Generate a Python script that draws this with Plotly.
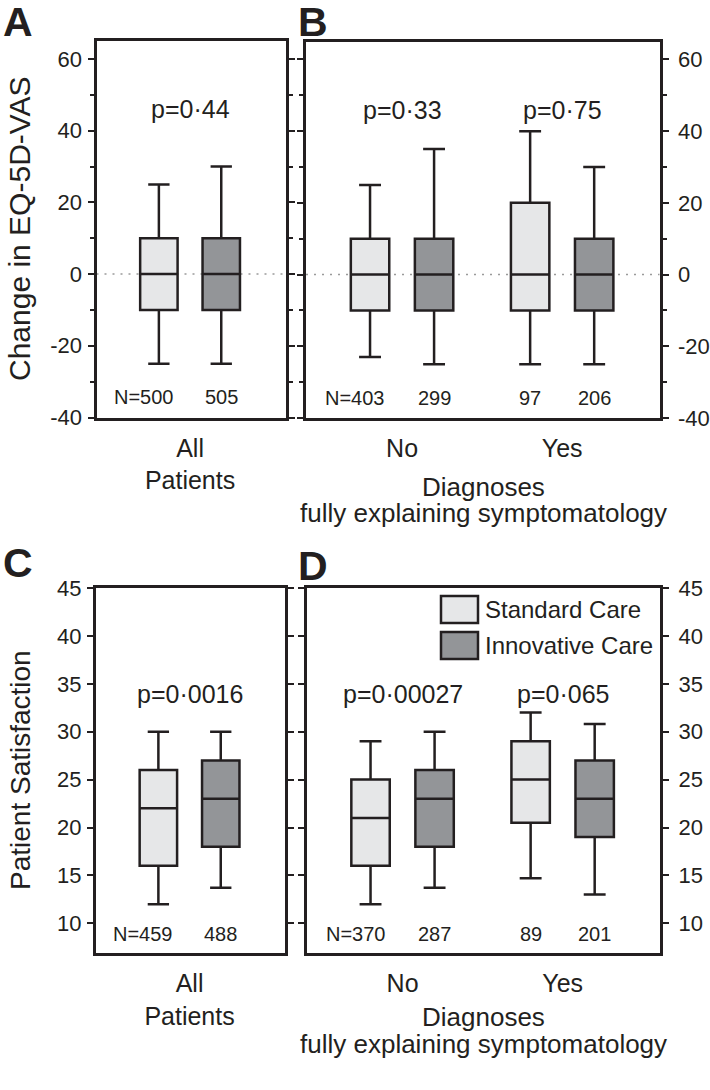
import plotly.graph_objects as go

W, H = 710, 1090
FONT = "Liberation Sans, Arial, sans-serif"
INK = "#231f20"
LIGHT = "#e6e7e8"
DARK = "#939598"

# five-number summaries per box: lower whisker, q1, median, q3, upper whisker
a_std = [[-25, -10, 0, 10, 25]]
a_inn = [[-25, -10, 0, 10, 30]]
b_std = [[-23, -10, 0, 10, 25], [-25, -10, 0, 20, 40]]
b_inn = [[-25, -10, 0, 10, 35], [-25, -10, 0, 10, 30]]
c_std = [[12, 16, 22, 26, 30]]
c_inn = [[13.7, 18, 23, 27, 30]]
d_std = [[12, 16, 21, 25, 29], [14.7, 20.5, 25, 29, 32]]
d_inn = [[13.7, 18, 23, 26, 30], [13, 19, 23, 27, 30.8]]

a_n = [500, 505]
b_n = [403, 299, 97, 206]
c_n = [459, 488]
d_n = [370, 287, 89, 201]

a_p = ["p=0·44"]
b_p = ["p=0·33", "p=0·75"]
c_p = ["p=0·0016"]
d_p = ["p=0·00027", "p=0·065"]

all_groups = ["All<br>Patients"]
dx_groups = ["No", "Yes"]

vas_ticks = [-40, -20, 0, 20, 40, 60]
vas_minor = [-30, -10, 10, 30, 50]
sat_ticks = [10, 15, 20, 25, 30, 35, 40, 45]

legend_names = ["Standard Care", "Innovative Care"]


def px_x(a, b):
    return [a / W, b / W]


def px_y(top, bottom):
    return [1 - bottom / H, 1 - top / H]


def label(text, x, y, size, xref="paper", yref="paper", **kw):
    d = dict(x=x, y=y, xref=xref, yref=yref, text=text, showarrow=False,
             xanchor="center", yanchor="middle",
             font=dict(size=size, color=INK, family=FONT))
    d.update(kw)
    return d


fig = go.Figure()
annotations = []
shapes = []


def add_panel(k, std, inn, groups, n, pvals, p_y, n_y, zero_line):
    xa = "x" if k == 1 else f"x{k}"
    ya = "y" if k == 1 else f"y{k}"
    std_pos = [1 + 2.5 * i for i in range(len(groups))]
    inn_pos = [2 + 2.5 * i for i in range(len(groups))]
    for pos, stats, fill, name in [(std_pos, std, LIGHT, legend_names[0]),
                                   (inn_pos, inn, DARK, legend_names[1])]:
        fig.add_trace(go.Box(
            x=pos,
            lowerfence=[s[0] for s in stats], q1=[s[1] for s in stats],
            median=[s[2] for s in stats], q3=[s[3] for s in stats],
            upperfence=[s[4] for s in stats],
            fillcolor=fill, line=dict(color=INK, width=2.5),
            width=0.6, whiskerwidth=0.57, boxpoints=False, hoverinfo="skip",
            name=name, showlegend=False, xaxis=xa, yaxis=ya,
        ))
    centers = [1.5 + 2.5 * i for i in range(len(groups))]
    for c, p in zip(centers, pvals):
        annotations.append(label(p, c, p_y, 25, xa, ya))
    boxes = sorted(std_pos + inn_pos)
    for j, (pos, num) in enumerate(zip(boxes, n)):
        if j == 0:
            annotations.append(label(f"N={num}", pos + 0.27, n_y, 20, xa, ya, xanchor="right"))
        else:
            annotations.append(label(str(num), pos, n_y, 20, xa, ya))
    if zero_line:
        shapes.append(dict(type="line", xref=f"{xa} domain", x0=0, x1=1, yref=ya, y0=0, y1=0,
                           line=dict(color="#9a9a9a", width=1.5, dash="2px,6px"),
                           layer="below"))
    return centers


def x_axis(dom, rng, centers, groups, anchor):
    return dict(domain=dom, range=rng, anchor=anchor, tickvals=centers, ticktext=groups,
                ticks="", showline=True, linewidth=3, linecolor=INK, mirror=True,
                showgrid=False, zeroline=False, automargin=False, fixedrange=True,
                tickfont=dict(size=25, color=INK, family=FONT), ticklabelstandoff=6)


def y_axis(dom, rng, ticks, minor, side, anchor):
    ax = dict(domain=dom, range=rng, anchor=anchor, tickvals=ticks,
              ticktext=[str(t) for t in ticks], ticks="outside", ticklen=6, tickwidth=2,
              tickcolor=INK, side=side, showline=True, linewidth=3, linecolor=INK,
              mirror="ticks", showgrid=False, zeroline=False, automargin=False,
              fixedrange=True, tickfont=dict(size=22, color=INK, family=FONT),
              ticklabelstandoff=1 if side == "left" else 5)
    if minor:
        ax["minor"] = dict(tickvals=minor, ticks="outside", ticklen=4, tickwidth=2,
                           tickcolor=INK, showgrid=False)
    return ax


ca = add_panel(1, a_std, a_inn, all_groups, a_n, a_p, 46, -34.4, True)
cb = add_panel(2, b_std, b_inn, dx_groups, b_n, b_p, 46, -34.4, True)
cc = add_panel(3, c_std, c_inn, all_groups, c_n, c_p, 33.9, 8.9, False)
cd = add_panel(4, d_std, d_inn, dx_groups, d_n, d_p, 33.9, 8.9, False)

layout_axes = dict(
    xaxis=x_axis(px_x(96.5, 285.5), [0, 3.03], ca, all_groups, "y"),
    yaxis=y_axis(px_y(41, 417.5), [-40, 65], vas_ticks, vas_minor, "left", "x"),
    xaxis2=x_axis(px_x(306, 659.5), [0, 5.52], cb, dx_groups, "y2"),
    yaxis2=y_axis(px_y(41.5, 418), [-40, 65], vas_ticks, vas_minor, "right", "x2"),
    xaxis3=x_axis(px_x(96, 285), [0, 3.03], cc, all_groups, "y3"),
    yaxis3=y_axis(px_y(588, 953), [6.9, 45], sat_ticks, None, "left", "x3"),
    xaxis4=x_axis(px_x(306.5, 660), [0, 5.52], cd, dx_groups, "y4"),
    yaxis4=y_axis(px_y(588, 953), [6.9, 45], sat_ticks, None, "right", "x4"),
)

# y-axis titles
for text, yc, size in [("Change in EQ-5D-VAS", 229, 30), ("Patient Satisfaction", 770, 28)]:
    annotations.append(label(text, 20 / W, 1 - yc / H, size, textangle=-90))

# shared x title for B and D
for y1, y2 in [(487, 513), (1017, 1044)]:
    annotations.append(label("Diagnoses", 483 / W, 1 - y1 / H, 26))
    annotations.append(label("fully explaining symptomatology", 483 / W, 1 - y2 / H, 26))

# panel letters
for letter, xc, yc in [("A", 18, 22), ("B", 313, 22), ("C", 18, 563), ("D", 313, 566)]:
    annotations.append(label(f"<b>{letter}</b>", xc / W, 1 - yc / H, 41))

# legend (panel D)
for (top, bottom), fill, name in zip([(596, 623), (632, 659)], [LIGHT, DARK], legend_names):
    shapes.append(dict(type="rect", xref="paper", yref="paper", x0=441 / W, x1=478 / W,
                       y0=1 - bottom / H, y1=1 - top / H, fillcolor=fill,
                       line=dict(color=INK, width=2.5)))
    annotations.append(label(name, 483 / W, 1 - (top + bottom) / 2 / H, 24, xanchor="left"))

fig.update_layout(
    width=W, height=H, margin=dict(l=0, r=0, t=0, b=0),
    paper_bgcolor="white", plot_bgcolor="white", showlegend=False,
    font=dict(family=FONT, color=INK),
    annotations=annotations, shapes=shapes, **layout_axes,
)

# drop the browser's default body margin so the figure sits at the page origin
fig.write_html("out.html", config={"displayModeBar": False},
               post_script="document.body.style.margin = '0';")
